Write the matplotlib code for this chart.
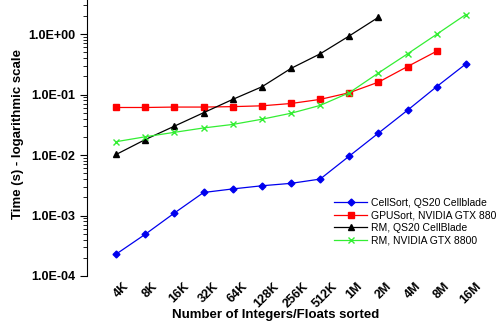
import numpy as np
import matplotlib
matplotlib.use("Agg")
import matplotlib.pyplot as plt
import matplotlib.transforms as mtransforms

plt.rcParams['font.family'] = ['Liberation Sans', 'DejaVu Sans']

sizes = ['4K', '8K', '16K', '32K', '64K', '128K', '256K', '512K', '1M', '2M', '4M', '8M', '16M']

cellsort = [2.3e-4, 4.9e-4, 1.1e-3, 2.4e-3, 2.75e-3, 3.1e-3, 3.4e-3, 4.0e-3,
            9.6e-3, 2.3e-2, 5.5e-2, 0.135, 0.32]
gpusort = [0.061, 0.061, 0.062, 0.062, 0.063, 0.065, 0.071, 0.083,
           0.107, 0.16, 0.29, 0.52]
rm_cell = [0.0102, 0.018, 0.030, 0.050, 0.083, 0.134, 0.27, 0.47, 0.93, 1.89]
rm_gpu = [0.0166, 0.020, 0.0237, 0.028, 0.032, 0.039, 0.049, 0.066,
          0.107, 0.227, 0.47, 0.99, 2.1]

fig = plt.figure(figsize=(5.01, 3.22), dpi=100)
ax = fig.add_axes([87/501, 46/322, 408/501, 276/322])

x = np.arange(len(sizes))
ax.plot(x[:len(cellsort)], cellsort, color='#0000ee', marker='D', ms=3.5, lw=0.9,
        label='CellSort, QS20 Cellblade')
ax.plot(x[:len(gpusort)], gpusort, color='#ff0000', marker='s', ms=5, lw=0.9,
        label='GPUSort, NVIDIA GTX 880')
ax.plot(x[:len(rm_cell)], rm_cell, color='black', marker='^', ms=5, lw=0.9,
        label='RM, QS20 CellBlade')
ax.plot(x[:len(rm_gpu)], rm_gpu, color='#33ee33', marker='x', ms=5, mew=1, lw=0.9,
        label='RM, NVIDIA GTX 8800')

ax.set_yscale('log')
ax.set_ylim(1e-4, 10**0.562)
ax.set_xlim(-1, 13)
ax.set_yticks([1e-4, 1e-3, 1e-2, 1e-1, 1e0])
ax.set_yticklabels(['1.0E-04', '1.0E-03', '1.0E-02', '1.0E-01', '1.0E+00'],
                   fontsize=9, fontweight='bold')
ax.set_xticks(x)
ax.set_xticklabels(sizes, rotation=45, ha='center', fontsize=9, fontweight='bold')
ax.tick_params(axis='x', length=0, pad=1)
ax.tick_params(axis='y', which='major', length=5, direction='out')
ax.tick_params(axis='y', which='minor', length=3, direction='out')

# labels sit a little right of and below their points in the original
shift = mtransforms.ScaledTranslation(5/100, -3/100, fig.dpi_scale_trans)
for lab in ax.get_xticklabels():
    lab.set_transform(lab.get_transform() + shift)

for s in ['top', 'right', 'bottom']:
    ax.spines[s].set_visible(False)

ax.set_ylabel('Time (s) - logarithmic scale', fontsize=9.5, fontweight='bold')
ax.yaxis.set_label_coords(-0.154, 0.514)
ax.set_xlabel('Number of Integers/Floats sorted', fontsize=9.5, fontweight='bold')
ax.xaxis.set_label_coords(0.463, -0.118)

leg = ax.legend(loc='lower left', bbox_to_anchor=(0.595, 0.095), frameon=False,
                fontsize=7.5, handlelength=3.2, handletextpad=0.4, labelspacing=0.25,
                borderaxespad=0)
for t in leg.get_texts():
    t.set_clip_on(False)

fig.savefig('out.png', dpi=100)
